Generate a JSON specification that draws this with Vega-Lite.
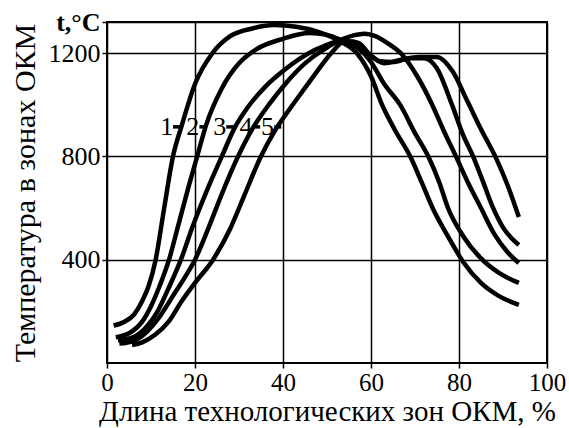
{
  "$schema": "https://vega.github.io/schema/vega-lite/v6.json",
  "width": 440,
  "height": 341,
  "autosize": {"type": "none"},
  "padding": {"left": 107, "top": 22, "right": 22, "bottom": 65},
  "background": "white",
  "config": {
    "view": {"stroke": "black", "strokeWidth": 2},
    "font": "Liberation Serif",
    "style": {"guide-label": {"font": "Liberation Serif"}, "guide-title": {"font": "Liberation Serif"}},
    "axis": {
      "domain": false,
      "grid": true,
      "gridColor": "black",
      "gridWidth": 1.5,
      "gridOpacity": 1,
      "tickColor": "black",
      "tickWidth": 1.5,
      "tickSize": 5,
      "labelColor": "black",
      "labelFont": "Liberation Serif",
      "labelFontSize": 26,
      "titleFont": "Liberation Serif",
      "titleFontSize": 28,
      "titleFontWeight": "normal",
      "titleColor": "black",
      "labelOverlap": false,
      "labelFlush": false,
      "labelBound": false
    }
  },
  "datasets": {
    "curves": [
      {"curve": "1", "x": 1.5, "t": 145}, {"curve": "1", "x": 4, "t": 160}, {"curve": "1", "x": 6, "t": 185}, {"curve": "1", "x": 8, "t": 240}, {"curve": "1", "x": 9.5, "t": 300}, {"curve": "1", "x": 11, "t": 395}, {"curve": "1", "x": 13, "t": 600}, {"curve": "1", "x": 15, "t": 800}, {"curve": "1", "x": 17, "t": 920}, {"curve": "1", "x": 20, "t": 1080}, {"curve": "1", "x": 24, "t": 1200}, {"curve": "1", "x": 28, "t": 1265}, {"curve": "1", "x": 33, "t": 1295}, {"curve": "1", "x": 38, "t": 1308}, {"curve": "1", "x": 43, "t": 1302}, {"curve": "1", "x": 48, "t": 1282}, {"curve": "1", "x": 53, "t": 1245}, {"curve": "1", "x": 57, "t": 1195}, {"curve": "1", "x": 60, "t": 1110}, {"curve": "1", "x": 62.5, "t": 1000}, {"curve": "1", "x": 65.5, "t": 900}, {"curve": "1", "x": 68.9, "t": 800}, {"curve": "1", "x": 71.5, "t": 700}, {"curve": "1", "x": 74, "t": 600}, {"curve": "1", "x": 77.5, "t": 490}, {"curve": "1", "x": 81, "t": 390}, {"curve": "1", "x": 85, "t": 310}, {"curve": "1", "x": 89, "t": 260}, {"curve": "1", "x": 93.6, "t": 225},
      {"curve": "2", "x": 2, "t": 100}, {"curve": "2", "x": 5, "t": 115}, {"curve": "2", "x": 8, "t": 160}, {"curve": "2", "x": 10, "t": 220}, {"curve": "2", "x": 12, "t": 300}, {"curve": "2", "x": 14.1, "t": 400}, {"curve": "2", "x": 16, "t": 520}, {"curve": "2", "x": 18.5, "t": 680}, {"curve": "2", "x": 20.5, "t": 800}, {"curve": "2", "x": 22.5, "t": 920}, {"curve": "2", "x": 26, "t": 1060}, {"curve": "2", "x": 30, "t": 1160}, {"curve": "2", "x": 34, "t": 1215}, {"curve": "2", "x": 40, "t": 1255}, {"curve": "2", "x": 46, "t": 1277}, {"curve": "2", "x": 50, "t": 1270}, {"curve": "2", "x": 53.5, "t": 1248}, {"curve": "2", "x": 57, "t": 1220}, {"curve": "2", "x": 60, "t": 1165}, {"curve": "2", "x": 63, "t": 1080}, {"curve": "2", "x": 66.6, "t": 1000}, {"curve": "2", "x": 70, "t": 890}, {"curve": "2", "x": 73, "t": 800}, {"curve": "2", "x": 75.5, "t": 700}, {"curve": "2", "x": 77.5, "t": 600}, {"curve": "2", "x": 81, "t": 490}, {"curve": "2", "x": 85, "t": 405}, {"curve": "2", "x": 89, "t": 350}, {"curve": "2", "x": 93.6, "t": 310},
      {"curve": "3", "x": 2.5, "t": 88}, {"curve": "3", "x": 6, "t": 100}, {"curve": "3", "x": 9, "t": 140}, {"curve": "3", "x": 11.5, "t": 200}, {"curve": "3", "x": 14, "t": 290}, {"curve": "3", "x": 16.8, "t": 400}, {"curve": "3", "x": 19.5, "t": 530}, {"curve": "3", "x": 23, "t": 680}, {"curve": "3", "x": 26.1, "t": 800}, {"curve": "3", "x": 29, "t": 910}, {"curve": "3", "x": 32, "t": 990}, {"curve": "3", "x": 36, "t": 1070}, {"curve": "3", "x": 40, "t": 1130}, {"curve": "3", "x": 44, "t": 1180}, {"curve": "3", "x": 47, "t": 1210}, {"curve": "3", "x": 50, "t": 1232}, {"curve": "3", "x": 53, "t": 1250}, {"curve": "3", "x": 56, "t": 1268}, {"curve": "3", "x": 58.5, "t": 1275}, {"curve": "3", "x": 61, "t": 1265}, {"curve": "3", "x": 64, "t": 1235}, {"curve": "3", "x": 67, "t": 1195}, {"curve": "3", "x": 70.5, "t": 1110}, {"curve": "3", "x": 73.9, "t": 1000}, {"curve": "3", "x": 76.5, "t": 900}, {"curve": "3", "x": 79.3, "t": 800}, {"curve": "3", "x": 82, "t": 700}, {"curve": "3", "x": 85, "t": 600}, {"curve": "3", "x": 88, "t": 500}, {"curve": "3", "x": 91, "t": 430}, {"curve": "3", "x": 93.6, "t": 387},
      {"curve": "4", "x": 2.8, "t": 75}, {"curve": "4", "x": 6, "t": 85}, {"curve": "4", "x": 9, "t": 120}, {"curve": "4", "x": 12, "t": 180}, {"curve": "4", "x": 15, "t": 260}, {"curve": "4", "x": 18, "t": 340}, {"curve": "4", "x": 20, "t": 400}, {"curve": "4", "x": 23, "t": 520}, {"curve": "4", "x": 26, "t": 650}, {"curve": "4", "x": 29.8, "t": 800}, {"curve": "4", "x": 33, "t": 905}, {"curve": "4", "x": 37, "t": 1005}, {"curve": "4", "x": 41, "t": 1090}, {"curve": "4", "x": 45, "t": 1160}, {"curve": "4", "x": 49, "t": 1210}, {"curve": "4", "x": 53, "t": 1245}, {"curve": "4", "x": 56, "t": 1245}, {"curve": "4", "x": 59, "t": 1205}, {"curve": "4", "x": 62, "t": 1168}, {"curve": "4", "x": 65, "t": 1165}, {"curve": "4", "x": 69, "t": 1180}, {"curve": "4", "x": 72, "t": 1180}, {"curve": "4", "x": 75, "t": 1140}, {"curve": "4", "x": 78.4, "t": 1000}, {"curve": "4", "x": 81, "t": 880}, {"curve": "4", "x": 83.2, "t": 800}, {"curve": "4", "x": 85.5, "t": 700}, {"curve": "4", "x": 87.5, "t": 610}, {"curve": "4", "x": 90, "t": 525}, {"curve": "4", "x": 93.6, "t": 457},
      {"curve": "5", "x": 5.7, "t": 70}, {"curve": "5", "x": 8, "t": 80}, {"curve": "5", "x": 11, "t": 110}, {"curve": "5", "x": 14, "t": 160}, {"curve": "5", "x": 17, "t": 240}, {"curve": "5", "x": 20, "t": 310}, {"curve": "5", "x": 24.1, "t": 400}, {"curve": "5", "x": 28, "t": 520}, {"curve": "5", "x": 31, "t": 640}, {"curve": "5", "x": 35, "t": 800}, {"curve": "5", "x": 38, "t": 895}, {"curve": "5", "x": 41.6, "t": 985}, {"curve": "5", "x": 45, "t": 1065}, {"curve": "5", "x": 48, "t": 1135}, {"curve": "5", "x": 51, "t": 1200}, {"curve": "5", "x": 54, "t": 1245}, {"curve": "5", "x": 57, "t": 1240}, {"curve": "5", "x": 60, "t": 1190}, {"curve": "5", "x": 63, "t": 1160}, {"curve": "5", "x": 67, "t": 1175}, {"curve": "5", "x": 71, "t": 1185}, {"curve": "5", "x": 75, "t": 1185}, {"curve": "5", "x": 78.5, "t": 1130}, {"curve": "5", "x": 82, "t": 1010}, {"curve": "5", "x": 85, "t": 905}, {"curve": "5", "x": 88.5, "t": 790}, {"curve": "5", "x": 91, "t": 690}, {"curve": "5", "x": 93.6, "t": 565}
    ],
    "labels": [
      {"label": "1", "lx": 13.6, "t": 914, "d1": 15.0, "d2": 17.0},
      {"label": "2", "lx": 19.5, "t": 914, "d1": 21.0, "d2": 22.6},
      {"label": "3", "lx": 25.6, "t": 914, "d1": 27.1, "d2": 29.0},
      {"label": "4", "lx": 31.6, "t": 914, "d1": 33.1, "d2": 34.8},
      {"label": "5", "lx": 36.5, "t": 914, "d1": 38.0, "d2": 39.6}
    ]
  },
  "encoding": {
    "y": {
      "field": "t", "type": "quantitative",
      "scale": {"domain": [0, 1320], "nice": false, "zero": false},
      "axis": {
        "values": [400, 800, 1200, 1320],
        "format": "d",
        "labelFont": "Liberation Serif",
        "labelExpr": "datum.value == 1320 ? 't,°C' : datum.label",
        "labelFontWeight": {"condition": {"test": "datum.value == 1320", "value": "bold"}, "value": "normal"},
        "title": "Температура в зонах ОКМ",
        "titleFontSize": 30,
        "labelPadding": 2,
        "titlePadding": 8
      }
    }
  },
  "layer": [
    {
      "data": {"name": "curves"},
      "mark": {"type": "line", "color": "black", "strokeWidth": 4.5, "interpolate": "monotone"},
      "encoding": {
        "x": {
          "field": "x", "type": "quantitative",
          "scale": {"domain": [0, 100], "nice": false, "zero": false},
          "axis": {"values": [0, 20, 40, 60, 80, 100], "format": "d", "labelFont": "Liberation Serif", "labelFontSize": 25, "title": "Длина технологических зон ОКМ, %", "titleFontSize": 29, "labelPadding": 2, "titlePadding": 2}
        },
        "detail": {"field": "curve", "type": "nominal"}
      }
    },
    {
      "data": {"name": "labels"},
      "mark": {"type": "rule", "color": "black", "strokeWidth": 3.5},
      "encoding": {
        "x": {"field": "d1", "type": "quantitative"},
        "x2": {"field": "d2"}
      }
    },
    {
      "data": {"name": "labels"},
      "mark": {"type": "text", "color": "black", "font": "Liberation Serif", "fontSize": 26, "align": "center", "baseline": "middle"},
      "encoding": {
        "x": {"field": "lx", "type": "quantitative"},
        "text": {"field": "label"}
      }
    }
  ]
}
